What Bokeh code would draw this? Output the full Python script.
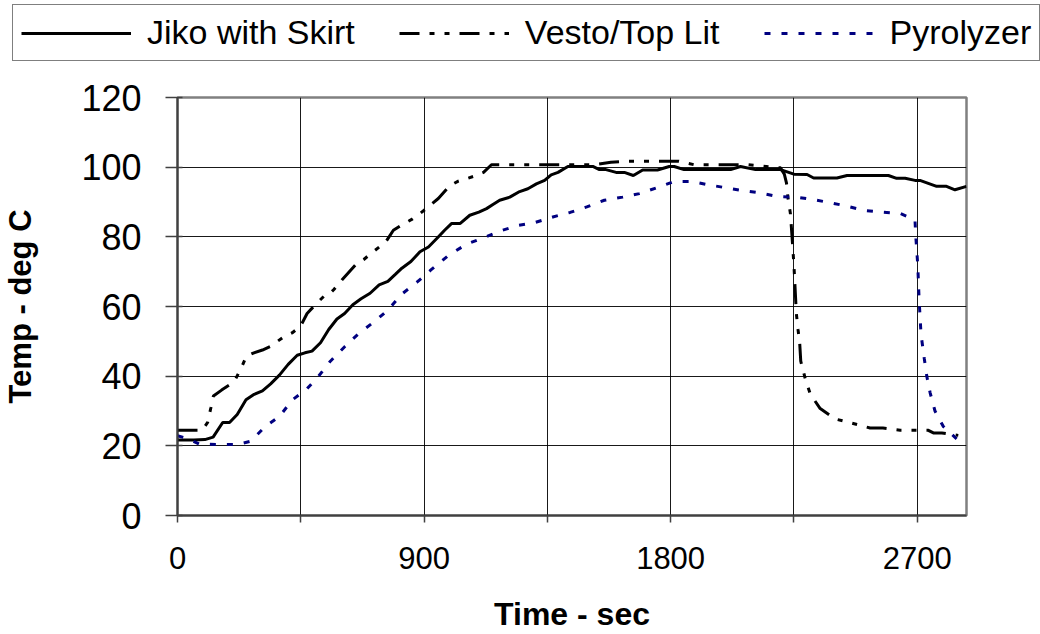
from bokeh.plotting import figure
from bokeh.models import Range1d, FixedTicker, Legend, LegendItem
from bokeh.layouts import column
from bokeh.embed import file_html
from bokeh.resources import INLINE

# ---- data ----
jiko_t = [0, 30, 60, 100, 130, 165, 190, 218, 250, 280, 310, 340, 372, 404, 437, 465,
          491, 522, 552, 582, 610, 640, 670, 703, 736, 768, 795, 819, 852, 885, 916,
          950, 975, 1000, 1031, 1067, 1100, 1128, 1150, 1176, 1213, 1249, 1279, 1310,
          1340, 1364, 1389, 1425, 1516, 1540, 1564, 1601, 1631, 1664, 1698, 1752, 1795,
          1813, 1849, 2019, 2055, 2110, 2201, 2250, 2298, 2322, 2407, 2444, 2595, 2625,
          2656, 2692, 2710, 2771, 2807, 2838, 2880]
jiko_v = [21.7, 21.7, 21.7, 21.8, 22.5, 26.7, 26.7, 29.0, 33.2, 34.8, 35.8, 37.8, 40.3,
          43.4, 46.0, 46.7, 47.2, 49.6, 53.4, 56.4, 58.0, 60.5, 62.2, 63.8, 66.2, 67.2,
          69.2, 71.0, 72.9, 75.7, 77.1, 79.8, 81.9, 83.8, 83.8, 86.2, 87.1, 88.1, 89.2,
          90.5, 91.4, 93.0, 93.8, 95.2, 96.2, 97.8, 98.5, 100.2, 100.2, 99.3, 99.3, 98.5,
          98.5, 97.6, 99.2, 99.2, 100.2, 100.2, 99.3, 99.3, 100.2, 99.3, 99.3, 98.0, 97.9,
          96.9, 96.9, 97.6, 97.6, 96.8, 96.8, 96.2, 96.2, 94.5, 94.5, 93.5, 94.5]

vesto_t = [0, 90, 110, 122, 131, 161, 190, 211, 236, 251, 279, 310, 338, 388, 418, 449,
           473, 509, 534, 552, 570, 600, 649, 680, 709, 760, 788, 820, 855, 880, 903,
           952, 994, 1025, 1055, 1090, 1117, 1146, 1520, 1582, 1640, 1830, 1886, 2080,
           2122, 2201, 2215, 2223, 2228, 2237, 2242, 2250, 2259, 2265, 2271, 2275, 2292,
           2310, 2346, 2401, 2462, 2528, 2575, 2638, 2739, 2759, 2790, 2850]
vesto_v = [24.5, 24.5, 26.7, 31.0, 34.3, 36.0, 37.5, 39.0, 42.9, 45.7, 46.7, 47.5, 48.5,
           51.3, 52.4, 54.3, 58.0, 61.0, 62.9, 63.4, 64.8, 67.6, 71.9, 73.5, 75.4, 78.5,
           81.9, 83.5, 85.0, 86.4, 87.8, 91.0, 94.7, 96.0, 96.7, 97.6, 98.5, 100.7, 100.7,
           101.4, 101.7, 101.7, 100.7, 100.7, 100.4, 99.8, 98.0, 95.4, 91.4, 86.8, 81.4,
           72.0, 58.0, 53.4, 49.7, 44.3, 39.1, 34.8, 30.7, 27.7, 26.5, 25.1, 25.1, 24.5,
           24.5, 23.7, 23.7, 23.0]

pyro_t = [0, 40, 80, 150, 220, 267, 320, 373, 418, 473, 515, 558, 612, 661, 716, 770,
          816, 873, 925, 988, 1055, 1116, 1179, 1243, 1304, 1370, 1433, 1494, 1558, 1625,
          1686, 1746, 1813, 1876, 1940, 2001, 2062, 2128, 2189, 2256, 2320, 2383, 2444,
          2504, 2571, 2638, 2692, 2695, 2702, 2707, 2714, 2726, 2735, 2747, 2765, 2795,
          2844]
pyro_v = [22.9, 22.0, 20.5, 20.4, 20.4, 21.3, 25.5, 28.5, 33.1, 36.4, 40.0, 44.3, 48.6,
          52.2, 55.5, 59.1, 63.4, 66.9, 70.5, 74.6, 77.9, 79.7, 81.7, 83.3, 84.1, 85.7,
          87.0, 88.6, 90.5, 91.4, 92.4, 94.0, 95.9, 95.9, 94.9, 94.1, 93.3, 92.6, 91.6,
          91.4, 90.7, 89.8, 88.8, 87.6, 87.1, 86.7, 84.8, 80.0, 72.0, 62.0, 52.0, 45.0,
          40.0, 35.3, 30.0, 25.6, 22.0]

series_names = ["Jiko with Skirt", "Vesto/Top Lit", "Pyrolyzer"]
x_ticks = [0, 450, 900, 1350, 1800, 2250, 2700]
x_labels = {450: "", 1350: "", 2250: ""}
y_ticks = [0, 20, 40, 60, 80, 100, 120]

FONT = "Liberation Sans"
STYLES = [dict(line_color="black", line_width=3),
          dict(line_color="black", line_width=3, line_dash="20 10 5 10 5 10"),
          dict(line_color="#000080", line_width=3, line_dash="6 11")]

# ---------------- main chart ----------------
p = figure(width=1040, height=572, output_backend="svg", toolbar_location=None,
           x_range=Range1d(0, 2880), y_range=Range1d(0, 120),
           min_border_left=175, min_border_right=74, min_border_top=35,
           min_border_bottom=116)
p.frame_align = False
p.background_fill_color = "white"
p.border_fill_color = "white"
p.outline_line_color = "#808080"
p.outline_line_width = 2.5

p.xgrid.ticker = FixedTicker(ticks=x_ticks)
p.ygrid.ticker = FixedTicker(ticks=y_ticks)
for g in (p.xgrid, p.ygrid):
    g.grid_line_color = "#000000"
    g.grid_line_width = 1
    g.grid_line_alpha = 0.9

p.xaxis.ticker = FixedTicker(ticks=x_ticks)
p.xaxis.major_label_overrides = x_labels
p.yaxis.ticker = FixedTicker(ticks=y_ticks)
for ax in (p.xaxis, p.yaxis):
    ax.axis_line_color = "#404040"
    ax.axis_line_width = 2
    ax.major_tick_line_color = "#404040"
    ax.major_tick_line_width = 1.5
    ax.minor_tick_line_color = None
    ax.major_label_text_font = FONT
    ax.major_label_text_color = "black"
    ax.axis_label_text_font = FONT
    ax.axis_label_text_font_style = "bold"
    ax.axis_label_text_color = "black"

p.xaxis.major_tick_in = 0
p.xaxis.major_tick_out = 7
p.xaxis.major_label_text_font_size = "31px"
p.xaxis.major_label_standoff = 24
p.xaxis.axis_label = "Time - sec"
p.xaxis.axis_label_text_font_size = "32px"
p.xaxis.axis_label_standoff = 24

p.yaxis.major_tick_in = 5
p.yaxis.major_tick_out = 12
p.yaxis.major_label_text_font_size = "36px"
p.yaxis.major_label_standoff = 24
p.yaxis.axis_label = "Temp - deg C"
p.yaxis.axis_label_text_font_size = "31px"
p.yaxis.axis_label_standoff = 40

p.line(jiko_t, jiko_v, **STYLES[0])
p.line(vesto_t, vesto_v, **STYLES[1])
p.line(pyro_t, pyro_v, **STYLES[2])

# ---------------- legend strip above the chart ----------------
lg = figure(width=1040, height=62, output_backend="svg", toolbar_location=None,
            x_range=Range1d(0, 1), y_range=Range1d(0, 1),
            x_axis_location=None, y_axis_location=None,
            min_border=0, min_border_left=0, min_border_right=0,
            min_border_top=0, min_border_bottom=0)
lg.frame_align = False
lg.outline_line_color = None
lg.grid.visible = False
lg.background_fill_color = "white"
lg.border_fill_color = "white"
# legend keys: same styles, kept outside the visible range of this strip
keys = [lg.line([-2, -1], [-2, -1], **st) for st in STYLES]

legend = Legend(
    items=[LegendItem(label=name, renderers=[r]) for name, r in zip(series_names, keys)],
    orientation="horizontal",
    location=(12, 1),
    glyph_width=110, glyph_height=20,
    label_standoff=16, spacing=44, padding=8, margin=0,
    label_text_font=FONT, label_text_font_size="34px", label_text_color="black",
    border_line_color="#000000", border_line_width=1.5,
    background_fill_color="white", background_fill_alpha=1.0,
)
lg.add_layout(legend, "center")

layout = column(lg, p, spacing=0)
open("out.html", "w").write(file_html(layout, INLINE))
